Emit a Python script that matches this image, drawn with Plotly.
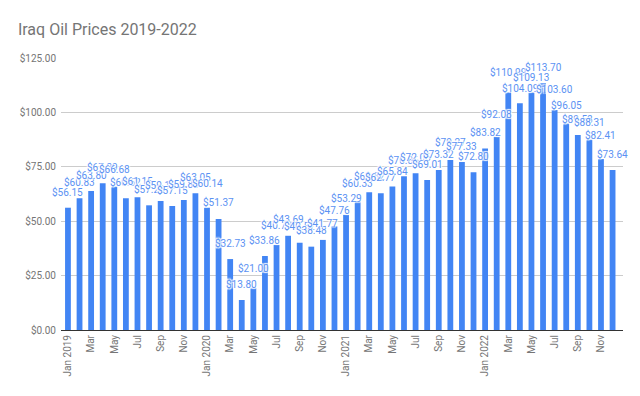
import plotly.graph_objects as go

# ---- data ----
month_names = ["Jan", "Feb", "Mar", "Apr", "May", "Jun",
               "Jul", "Aug", "Sep", "Oct", "Nov", "Dec"]
years = [2019, 2020, 2021, 2022]
months = [f"{m} {y}" for y in years for m in month_names]

# bar heights as drawn
bar_values = [
    56.2, 60.5, 63.9, 67.4, 65.9, 60.5, 61.0, 57.3, 59.3, 57.0, 59.7, 62.8,
    56.2, 51.0, 32.6, 13.8, 19.4, 34.0, 39.1, 43.3, 40.1, 38.3, 41.4, 47.6,
    52.9, 59.0, 63.3, 62.8, 65.9, 70.6, 72.0, 68.9, 73.5, 78.1, 77.2, 72.5,
    83.4, 88.8, 109.2, 104.2, 109.2, 113.4, 101.1, 95.0, 89.6, 87.6, 78.6, 73.5,
]

# printed data labels
label_values = [
    56.15, 60.83, 63.80, 67.39, 66.68, 60.62, 61.15, 57.28, 59.16, 57.15, 59.86, 63.05,
    60.14, 51.37, 32.73, 13.80, 21.00, 33.86, 40.73, 43.69, 40.52, 38.48, 41.77, 47.76,
    53.29, 60.33, 63.52, 62.77, 65.84, 70.86, 72.06, 69.01, 73.32, 79.27, 77.33, 72.80,
    83.82, 92.08, 110.99, 104.09, 109.13, 113.70, 103.60, 96.05, 89.58, 88.31, 82.41, 73.64,
]

tick_text = ["Jan 2019", "Mar", "May", "Jul", "Sep", "Nov",
             "Jan 2020", "Mar", "May", "Jul", "Sep", "Nov",
             "Jan 2021", "Mar", "May", "Jul", "Sep", "Nov",
             "Jan 2022", "Mar", "May", "Jul", "Sep", "Nov"]

y_ticks = [0, 25, 50, 75, 100, 125]

# ---- figure ----
x_pos = list(range(len(months)))

fig = go.Figure()
fig.add_trace(go.Bar(
    x=x_pos,
    y=bar_values,
    width=0.5,
    marker=dict(color="#4285F4", line=dict(width=0)),
    hovertext=months,
    showlegend=False,
))

halo = ("1px 1px 1px #ffffff, -1px -1px 1px #ffffff, "
        "1px -1px 1px #ffffff, -1px 1px 1px #ffffff")
annotations = []
for i, v in enumerate(label_values):
    annotations.append(dict(
        x=x_pos[i], y=v, xref="x", yref="y",
        text=f"${v:,.2f}",
        showarrow=False,
        yanchor="middle", xanchor="center",
        yshift=16,
        font=dict(family="Roboto", size=10, color="#5b92f3", shadow=halo),
    ))

fig.update_layout(
    width=640, height=396,
    margin=dict(l=61, r=17, t=58, b=66, pad=0),
    paper_bgcolor="white",
    plot_bgcolor="white",
    title=dict(text="Iraq Oil Prices 2019-2022", x=0.028, xanchor="left",
               y=0.925, yanchor="middle",
               font=dict(family="Roboto", size=16, color="#757575")),
    bargap=0.5,
    annotations=annotations,
    font=dict(family="Roboto", color="#757575"),
)

fig.update_xaxes(
    range=[-0.6, 47.9],
    tickmode="array",
    tickvals=x_pos[::2],
    ticktext=tick_text,
    tickangle=-90,
    tickfont=dict(family="Roboto", size=10, color="#757575"),
    showgrid=False,
    showline=True, linecolor="#333333", linewidth=1,
    ticks="",
    zeroline=False,
    automargin=False,
)
fig.update_yaxes(
    range=[0, 125],
    tickmode="array",
    tickvals=y_ticks,
    ticktext=[f"${t:,.2f}" for t in y_ticks],
    tickfont=dict(family="Roboto", size=10, color="#757575"),
    showgrid=True, gridcolor="#cccccc", gridwidth=1,
    zeroline=False,
    ticks="",
    ticklabelstandoff=4,
    automargin=False,
)

fig.write_html(
    "out.html",
    config={"displayModeBar": False},
    post_script="document.body.style.margin='0';document.body.style.padding='0';",
)
